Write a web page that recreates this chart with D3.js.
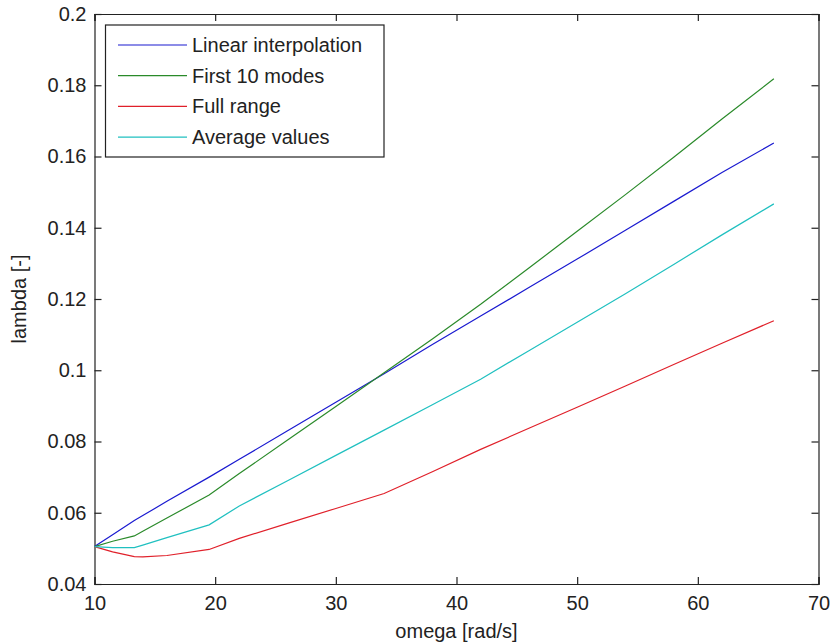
<!DOCTYPE html>
<html>
<head>
<meta charset="utf-8">
<script src="https://cdn.jsdelivr.net/npm/d3@7"></script>
<style>
  body { margin: 0; background: #fff; }
  text { font-family: "Liberation Sans", Arial, sans-serif; fill: #222; }
</style>
</head>
<body>
<svg id="chart" width="830" height="644"></svg>
<script>
"use strict";

// data
const omega = [10, 11.5, 13.3, 14, 16, 19.5, 22, 26, 30, 34, 38, 42, 46, 50, 54, 58, 62, 66.3];
const linearInterp = [0.0505, 0.0538, 0.0578, 0.0592, 0.0632, 0.0700, 0.0750, 0.0830, 0.0910, 0.0990, 0.1072, 0.1152, 0.1232, 0.1312, 0.1393, 0.1474, 0.1555, 0.1638];
const first10Modes = [0.0505, 0.0520, 0.0535, 0.0548, 0.0585, 0.0650, 0.0710, 0.0804, 0.0898, 0.0993, 0.1088, 0.1185, 0.1287, 0.1390, 0.1493, 0.1598, 0.1705, 0.1818];
const fullRange = [0.0505, 0.0490, 0.0477, 0.0476, 0.0480, 0.0497, 0.0528, 0.0570, 0.0612, 0.0654, 0.0715, 0.0778, 0.0837, 0.0896, 0.0956, 0.1016, 0.1076, 0.1139];
const averageValues = [0.0505, 0.0502, 0.0502, 0.0509, 0.0530, 0.0566, 0.0619, 0.0690, 0.0761, 0.0832, 0.0903, 0.0975, 0.1055, 0.1135, 0.1215, 0.1297, 0.1380, 0.1467];

const seriesNames = ["Linear interpolation", "First 10 modes", "Full range", "Average values"];
const seriesColors = ["#1a1ad0", "#2a8a2a", "#e0202a", "#20c0c0"];
const seriesValues = [linearInterp, first10Modes, fullRange, averageValues];

const xTicks = [10, 20, 30, 40, 50, 60, 70];
const yTicks = [0.04, 0.06, 0.08, 0.1, 0.12, 0.14, 0.16, 0.18, 0.2];

const margin = { left: 94.5, top: 14, right: 11.5, bottom: 60 };
const width = 830, height = 644;

const svg = d3.select("#chart");

const x = d3.scaleLinear().domain([10, 70]).range([margin.left, width - margin.right]);
const y = d3.scaleLinear().domain([0.04, 0.2]).range([height - margin.bottom, margin.top]);

// axes, ticks pointing inward on all four sides
const fmt = d => String(+d.toFixed(2));
const tickLen = 7;

svg.append("g")
  .attr("transform", "translate(0," + y(0.04) + ")")
  .call(d3.axisBottom(x).tickValues(xTicks).tickSize(-tickLen).tickPadding(12).tickFormat(d3.format("d")));
svg.append("g")
  .attr("transform", "translate(0," + y(0.2) + ")")
  .call(d3.axisTop(x).tickValues(xTicks).tickSize(-tickLen).tickFormat(""));
svg.append("g")
  .attr("transform", "translate(" + x(10) + ",0)")
  .call(d3.axisLeft(y).tickValues(yTicks).tickSize(-tickLen).tickPadding(8).tickFormat(fmt));
svg.append("g")
  .attr("transform", "translate(" + x(70) + ",0)")
  .call(d3.axisRight(y).tickValues(yTicks).tickSize(-tickLen).tickFormat(""));

svg.selectAll(".domain").attr("stroke", "#222").attr("stroke-width", 1.2);
svg.selectAll(".tick line").attr("stroke", "#222").attr("stroke-width", 1.2);
svg.selectAll(".tick text").style("font-size", "20px").attr("fill", "#222");

// lines
const line = d3.line()
  .x((d, i) => x(omega[i]))
  .y(d => y(d));

seriesValues.forEach((vals, k) => {
  svg.append("path")
    .datum(vals)
    .attr("fill", "none")
    .attr("stroke", seriesColors[k])
    .attr("stroke-width", 1.2)
    .attr("d", line);
});

// axis labels
svg.append("text")
  .attr("x", (x(10) + x(70)) / 2)
  .attr("y", 638)
  .attr("text-anchor", "middle")
  .style("font-size", "20px")
  .text("omega [rad/s]");

svg.append("text")
  .attr("transform", "translate(26," + ((y(0.04) + y(0.2)) / 2) + ") rotate(-90)")
  .attr("text-anchor", "middle")
  .style("font-size", "20px")
  .text("lambda [-]");

// legend
const legend = svg.append("g");
legend.append("rect")
  .attr("x", 105.5).attr("y", 25)
  .attr("width", 278.5).attr("height", 132)
  .attr("fill", "#fff").attr("stroke", "#222").attr("stroke-width", 1.2);

seriesNames.forEach((name, k) => {
  const ry = 45 + k * 30.7;
  legend.append("line")
    .attr("x1", 118).attr("x2", 187)
    .attr("y1", ry).attr("y2", ry)
    .attr("stroke", seriesColors[k]).attr("stroke-width", 1.2);
  legend.append("text")
    .attr("x", 192).attr("y", ry)
    .attr("dy", "0.35em")
    .style("font-size", "20px")
    .text(name);
});
</script>
</body>
</html>
